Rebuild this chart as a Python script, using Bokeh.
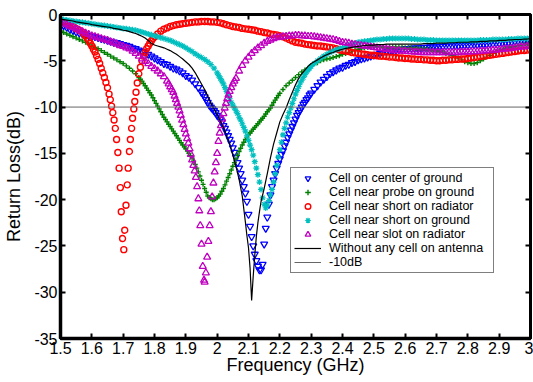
import numpy as np
from bokeh.plotting import figure
from bokeh.models import Range1d, LinearAxis, FixedTicker, Legend, LegendItem
from bokeh.embed import file_html
from bokeh.resources import INLINE

# ---------------- data ----------------
f_start, f_step, n_pts = 1.5, 0.01, 151
freq = [round(f_start + f_step * i, 3) for i in range(n_pts)]

x_ticks = [1.5, 1.6, 1.7, 1.8, 1.9, 2.0, 2.1, 2.2, 2.3, 2.4, 2.5, 2.6, 2.7, 2.8, 2.9, 3.0]
x_labels = ["1.5", "1.6", "1.7", "1.8", "1.9", "2", "2.1", "2.2", "2.3", "2.4", "2.5",
            "2.6", "2.7", "2.8", "2.9", "3"]
y_ticks = [-35, -30, -25, -20, -15, -10, -5, 0]
y_labels = ["-35", "-30", "-25", "-20", "-15", "-10", "-5", "0"]
ref_db = -10
x_title = "Frequency (GHz)"
y_title = "Return Loss(dB)"

labels = ["Cell on center of ground", "Cell near probe on ground", "Cell near short on radiator",
          "Cell near short on ground", "Cell near slot on radiator", "Without any cell on antenna", "-10dB"]

blue_db = [
    -1.0, -1.2, -1.4, -1.6, -1.75, -1.9, -2.0, -2.1, -2.2, -2.3,
    -2.35, -2.4, -2.5, -2.6, -2.7, -2.8, -2.9, -3.0, -3.05, -3.15,
    -3.25, -3.35, -3.45, -3.6, -3.7, -3.85, -4.0, -4.1, -4.3, -4.5,
    -4.7, -4.9, -5.1, -5.3, -5.4, -5.6, -5.8, -5.9, -6.1, -6.3,
    -6.6, -6.8, -7.1, -7.5, -7.9, -8.4, -8.9, -9.5, -10.0, -10.4,
    -10.9, -11.3, -12.0, -12.7, -13.5, -14.4, -15.4, -16.6, -17.9, -19.3,
    -21.6, -24.0, -25.9, -27.2, -27.6, -24.8, -21.9, -19.5, -17.9, -16.6,
    -15.6, -14.7, -13.8, -12.9, -12.1, -11.3, -10.6, -10.0, -9.5, -9.0,
    -8.5, -8.1, -7.7, -7.3, -7.0, -6.7, -6.4, -6.2, -6.0, -5.8,
    -5.7, -5.5, -5.4, -5.2, -5.1, -4.9, -4.8, -4.7, -4.6, -4.5,
    -4.4, -4.3, -4.2, -4.1, -4.0, -3.95, -3.9, -3.85, -3.8, -3.75,
    -3.7, -3.7, -3.65, -3.65, -3.6, -3.6, -3.55, -3.55, -3.5, -3.5,
    -3.5, -3.45, -3.45, -3.4, -3.4, -3.4, -3.35, -3.35, -3.3, -3.3,
    -3.3, -3.3, -3.25, -3.25, -3.2, -3.2, -3.2, -3.15, -3.15, -3.1,
    -3.1, -3.05, -3.0, -3.0, -2.95, -2.9, -2.85, -2.8, -2.8, -2.75,
    -2.7]
blue_mid_start = 1.955
blue_mid_db = [
    -8.6, -9.2, -9.8, -10.2, -10.6, -11.1, -11.6, -12.3, -13.1, -13.9,
    -14.9, -16.0, -17.2, -18.6, -20.2, -22.9, -25.0, -26.6, -27.6, -27.0,
    -23.1, -20.5, -18.6, -17.2, -16.1, -15.1, -14.2, -13.3, -12.5, -11.7,
    -10.9, -10.3, -9.7, -9.2, -8.7]

green_db = [
    -1.8, -1.95, -2.1, -2.25, -2.4, -2.55, -2.7, -2.85, -3.0, -3.2,
    -3.4, -3.55, -3.7, -3.9, -4.1, -4.3, -4.5, -4.7, -4.9, -5.1,
    -5.3, -5.55, -5.8, -6.1, -6.4, -6.8, -7.2, -7.7, -8.2, -8.7,
    -9.3, -9.9, -10.5, -11.1, -11.6, -12.1, -12.6, -13.1, -13.6, -14.1,
    -14.5, -15.0, -15.5, -16.2, -17.0, -17.9, -18.8, -19.6, -19.9, -20.0,
    -19.8, -19.4, -18.8, -18.0, -17.2, -16.4, -15.6, -14.8, -14.1, -13.5,
    -13.0, -12.6, -12.2, -11.8, -11.4, -11.0, -10.5, -10.1, -9.5, -9.0,
    -8.5, -8.1, -7.7, -7.4, -7.1, -6.8, -6.5, -6.2, -6.0, -5.8,
    -5.5, -5.3, -5.2, -5.0, -4.9, -4.8, -4.75, -4.65, -4.55, -4.45,
    -4.3, -4.2, -4.1, -3.95, -3.85, -3.75, -3.7, -3.6, -3.55, -3.5,
    -3.5, -3.5, -3.5, -3.5, -3.5, -3.5, -3.5, -3.5, -3.55, -3.55,
    -3.6, -3.6, -3.6, -3.65, -3.65, -3.7, -3.7, -3.75, -3.8, -3.85,
    -3.9, -4.0, -4.1, -4.2, -4.3, -4.4, -4.5, -4.7, -4.9, -5.1,
    -5.2, -5.3, -5.3, -5.2, -5.0, -4.8, -4.6, -4.4, -4.2, -4.0,
    -3.9, -3.8, -3.7, -3.6, -3.5, -3.4, -3.35, -3.3, -3.2, -3.15,
    -3.1]
green_mid_start = 1.755
green_mid_db = [
    -7.0, -7.45, -7.95, -8.45, -9.0, -9.6, -10.2, -10.8, -11.35, -11.85,
    -12.35, -12.85, -13.35, -13.85, -14.3, -14.75, -15.25, -15.85, -16.6, -17.45,
    -18.35, -19.2, -19.8, -20.0, -19.9, -19.6, -19.1, -18.4, -17.6, -16.8,
    -16.0, -15.2, -14.45, -13.8, -13.25, -12.8, -12.4, -12.0, -11.6, -11.2,
    -10.75, -10.3, -9.8, -9.25, -8.75]

red_db = [
    -0.75, -0.85, -1.0, -1.15, -1.3, -1.5, -1.7, -1.95, -2.3, -2.8,
    -3.4, -4.1, -4.8, -5.8, -6.8, -7.9, -9.2, -11.0, -13.3, -17.5,
    -25.0, -20.3, -14.6, -11.0, -8.3, -6.3, -5.0, -4.1, -3.4, -2.9,
    -2.4, -2.1, -1.8, -1.6, -1.45, -1.3, -1.2, -1.1, -1.05, -1.0,
    -0.95, -0.9, -0.85, -0.8, -0.8, -0.75, -0.75, -0.75, -0.8, -0.8,
    -0.85, -0.9, -1.0, -1.1, -1.2, -1.3, -1.35, -1.4, -1.5, -1.55,
    -1.6, -1.65, -1.7, -1.8, -1.85, -1.95, -2.0, -2.1, -2.15, -2.2,
    -2.3, -2.4, -2.55, -2.7, -2.85, -3.0, -3.05, -3.1, -3.2, -3.25,
    -3.3, -3.35, -3.4, -3.4, -3.45, -3.5, -3.55, -3.6, -3.7, -3.8,
    -3.9, -3.95, -4.0, -4.1, -4.15, -4.2, -4.25, -4.3, -4.35, -4.4,
    -4.4, -4.45, -4.5, -4.5, -4.55, -4.6, -4.6, -4.65, -4.7, -4.7,
    -4.75, -4.75, -4.8, -4.8, -4.85, -4.85, -4.9, -4.9, -4.95, -4.95,
    -5.0, -5.0, -4.95, -4.95, -4.9, -4.9, -4.85, -4.85, -4.8, -4.8,
    -4.75, -4.7, -4.65, -4.6, -4.55, -4.5, -4.45, -4.4, -4.35, -4.3,
    -4.25, -4.2, -4.15, -4.1, -4.05, -4.0, -3.95, -3.9, -3.9, -3.85,
    -3.8]
red_dip_f = [1.57, 1.575, 1.58, 1.585, 1.59, 1.595, 1.60, 1.605, 1.61, 1.615,
             1.62, 1.625, 1.63, 1.635, 1.64, 1.645, 1.65, 1.655,
             1.659, 1.663, 1.667, 1.671, 1.675, 1.679, 1.683, 1.687, 1.691, 1.694, 1.698, 1.702,
             1.705, 1.709, 1.713, 1.716, 1.720, 1.723, 1.727, 1.730, 1.734, 1.737, 1.741, 1.745,
             1.75, 1.755, 1.76, 1.765, 1.77, 1.775, 1.78, 1.785, 1.79, 1.795, 1.80]
red_dip_db = [-1.9, -2.1, -2.3, -2.55, -2.8, -3.1, -3.4, -3.75, -4.05, -4.45,
              -4.85, -5.3, -5.8, -6.3, -6.8, -7.35, -7.9, -8.6,
              -9.2, -9.9, -10.6, -11.4, -12.3, -13.5, -14.9, -16.6, -18.7, -21.3, -24.2, -25.4,
              -23.3, -20.6, -18.4, -16.6, -14.8, -13.5, -12.3, -11.2, -10.2, -9.4, -8.4, -7.4,
              -6.4, -5.7, -5.0, -4.5, -4.1, -3.7, -3.4, -3.1, -2.85, -2.6, -2.4]

cyan_db = [
    -0.5, -0.55, -0.6, -0.65, -0.7, -0.75, -0.8, -0.85, -0.9, -0.95,
    -1.0, -1.05, -1.1, -1.15, -1.2, -1.25, -1.3, -1.35, -1.4, -1.45,
    -1.5, -1.55, -1.6, -1.65, -1.7, -1.8, -1.9, -2.0, -2.1, -2.2,
    -2.3, -2.4, -2.5, -2.6, -2.7, -2.8, -2.95, -3.1, -3.25, -3.4,
    -3.6, -3.8, -4.0, -4.25, -4.45, -4.65, -4.85, -5.1, -5.4, -5.8,
    -6.3, -6.9, -7.5, -8.3, -9.1, -9.8, -10.4, -11.1, -11.8, -12.6,
    -13.6, -14.6, -15.9, -17.3, -18.9, -20.5, -20.6, -19.5, -18.1, -16.3,
    -14.6, -13.0, -11.7, -10.6, -9.6, -8.6, -7.8, -7.1, -6.5, -6.0,
    -5.6, -5.3, -5.0, -4.75, -4.5, -4.3, -4.1, -3.95, -3.8, -3.7,
    -3.6, -3.45, -3.3, -3.2, -3.1, -3.0, -2.95, -2.9, -2.85, -2.8,
    -2.75, -2.7, -2.7, -2.65, -2.65, -2.6, -2.6, -2.6, -2.6, -2.6,
    -2.6, -2.6, -2.65, -2.65, -2.7, -2.7, -2.7, -2.75, -2.75, -2.75,
    -2.8, -2.8, -2.8, -2.8, -2.8, -2.8, -2.8, -2.8, -2.8, -2.8,
    -2.8, -2.8, -2.8, -2.8, -2.75, -2.75, -2.75, -2.75, -2.7, -2.7,
    -2.7, -2.7, -2.7, -2.65, -2.65, -2.65, -2.6, -2.6, -2.6, -2.6,
    -2.6]
cyan_dip_start, cyan_dip_step = 2.0, 0.005
cyan_dip_db = [
    -6.3, -6.6, -6.9, -7.2, -7.5, -7.9, -8.3, -8.7, -9.1, -9.5,
    -9.8, -10.1, -10.4, -10.7, -11.1, -11.4, -11.8, -12.2, -12.6, -13.1,
    -13.6, -14.1, -14.6, -15.2, -15.9, -16.6, -17.3, -18.1, -18.9, -19.8,
    -20.5, -20.9, -20.6, -20.1, -19.5, -18.9, -18.1, -17.2, -16.3, -15.4,
    -14.6, -13.8, -13.0, -12.3, -11.7, -11.1, -10.6, -10.1, -9.6, -9.1,
    -8.6, -8.2, -7.8, -7.4, -7.1, -6.8, -6.5, -6.2, -6.0, -5.8,
    -5.6]

magenta_db = [
    -0.8, -0.95, -1.1, -1.25, -1.4, -1.55, -1.7, -1.85, -2.0, -2.15,
    -2.3, -2.4, -2.5, -2.6, -2.7, -2.8, -2.95, -3.05, -3.2, -3.35,
    -3.45, -3.6, -3.7, -3.95, -4.2, -4.5, -4.8, -5.05, -5.3, -5.6,
    -5.85, -6.1, -6.4, -6.7, -7.1, -7.8, -8.4, -9.2, -10.2, -11.3,
    -12.9, -14.2, -15.7, -17.5, -19.9, -24.8, -28.9, -26.2, -21.3, -17.0,
    -15.0, -12.0, -10.4, -9.1, -8.3, -7.5, -6.9, -6.1, -5.5, -5.0,
    -4.6, -4.2, -3.9, -3.6, -3.35, -3.1, -2.9, -2.75, -2.6, -2.5,
    -2.45, -2.4, -2.35, -2.3, -2.3, -2.25, -2.25, -2.3, -2.3, -2.35,
    -2.35, -2.4, -2.45, -2.5, -2.55, -2.6, -2.65, -2.7, -2.8, -2.9,
    -3.0, -3.05, -3.1, -3.2, -3.25, -3.3, -3.35, -3.4, -3.45, -3.5,
    -3.55, -3.6, -3.65, -3.7, -3.75, -3.8, -3.85, -3.9, -3.9, -3.95,
    -3.95, -4.0, -4.0, -4.05, -4.05, -4.1, -4.1, -4.1, -4.1, -4.1,
    -4.1, -4.1, -4.1, -4.1, -4.1, -4.1, -4.1, -4.1, -4.05, -4.05,
    -4.05, -4.0, -4.0, -4.0, -3.95, -3.95, -3.9, -3.9, -3.85, -3.85,
    -3.8, -3.75, -3.7, -3.7, -3.65, -3.6, -3.55, -3.5, -3.5, -3.45,
    -3.4]
magenta_dip_f = [1.840, 1.845, 1.850, 1.855, 1.860, 1.864, 1.868, 1.872, 1.876, 1.880,
                 1.884, 1.888, 1.892, 1.896, 1.900, 1.904, 1.908, 1.912, 1.916, 1.920,
                 1.924, 1.928, 1.932, 1.936, 1.940, 1.943, 1.946, 1.950, 1.954, 1.958,
                 1.960, 1.964, 1.968, 1.972, 1.976, 1.980, 1.984, 1.988, 1.992, 1.996,
                 2.000, 2.004, 2.008, 2.012, 2.016, 2.020, 2.024, 2.028, 2.032, 2.036,
                 2.040, 2.045, 2.050, 2.055, 2.060]
magenta_dip_db = [-7.2, -7.5, -7.8, -8.1, -8.4, -8.8, -9.2, -9.6, -10.0, -10.4,
                  -10.9, -11.4, -11.9, -12.4, -12.9, -13.4, -13.9, -14.5, -15.1, -15.7,
                  -16.3, -16.9, -17.6, -18.6, -19.9, -21.2, -22.8, -24.8, -27.2, -28.7,
                  -28.9, -27.9, -26.2, -24.5, -22.8, -21.3, -19.7, -18.2, -17.0, -16.0,
                  -15.0, -13.7, -12.8, -12.0, -11.3, -10.7, -10.1, -9.6, -9.1, -8.7,
                  -8.3, -7.9, -7.5, -7.2, -6.9]

black_db = [
    -0.5, -0.55, -0.6, -0.65, -0.7, -0.8, -0.85, -0.9, -0.95, -1.0,
    -1.1, -1.15, -1.2, -1.25, -1.3, -1.35, -1.4, -1.5, -1.55, -1.6,
    -1.7, -1.75, -1.85, -1.95, -2.05, -2.2, -2.35, -2.55, -2.8, -3.1,
    -3.3, -3.4, -3.5, -3.6, -3.75, -3.9, -4.1, -4.3, -4.55, -4.8,
    -5.1, -5.4, -5.8, -6.3, -6.9, -7.5, -8.1, -8.8, -9.6, -10.2,
    -10.8, -11.5, -12.2, -13.1, -14.0, -15.2, -16.4, -17.8, -19.6, -22.4,
    -25.2, -30.9, -26.0, -22.5, -20.2, -18.8, -17.2, -15.5, -14.0, -12.8,
    -11.6, -10.8, -10.1, -9.2, -8.4, -7.6, -6.9, -6.4, -6.0, -5.6,
    -5.3, -5.1, -4.9, -4.7, -4.5, -4.35, -4.2, -4.1, -3.95, -3.85,
    -3.75, -3.65, -3.6, -3.55, -3.5, -3.45, -3.4, -3.35, -3.3, -3.3,
    -3.3, -3.25, -3.25, -3.25, -3.2, -3.2, -3.2, -3.2, -3.2, -3.2,
    -3.2, -3.2, -3.2, -3.2, -3.2, -3.2, -3.15, -3.15, -3.15, -3.15,
    -3.1, -3.1, -3.1, -3.1, -3.05, -3.05, -3.05, -3.0, -3.0, -3.0,
    -3.0, -2.95, -2.95, -2.95, -2.9, -2.9, -2.9, -2.85, -2.85, -2.85,
    -2.8, -2.8, -2.8, -2.75, -2.75, -2.7, -2.7, -2.7, -2.65, -2.65,
    -2.6]
black_dip_f = [2.095, 2.100, 2.105, 2.110, 2.115, 2.120, 2.125, 2.130, 2.135]
black_dip_db = [-23.9, -25.2, -27.4, -30.9, -28.3, -26.0, -24.0, -22.5, -21.3]

colors = ["#0000FF", "#008000", "#FF0000", "#00BFBF", "#BF00BF", "#000000", "#666666"]


# ---------------- helpers ----------------
def with_mid(coarse, mid_start, mid_db):
    xs = list(freq) + [round(mid_start + 0.01 * i, 4) for i in range(len(mid_db))]
    ys = list(coarse) + list(mid_db)
    order = np.argsort(xs, kind="stable")
    return [xs[i] for i in order], [ys[i] for i in order]


def with_dip(coarse, dip_f, dip_db):
    lo, hi = min(dip_f) - 1e-9, max(dip_f) + 1e-9
    pts = [(f, v) for f, v in zip(freq, coarse) if not (lo <= f <= hi)]
    pts += list(zip(dip_f, dip_db))
    pts.sort()
    return [p[0] for p in pts], [p[1] for p in pts]


blue_x, blue_y = with_mid(blue_db, blue_mid_start, blue_mid_db)
green_x, green_y = with_mid(green_db, green_mid_start, green_mid_db)
red_x, red_y = with_dip(red_db, red_dip_f, red_dip_db)
cyan_dip_f = [round(cyan_dip_start + cyan_dip_step * i, 4) for i in range(len(cyan_dip_db))]
cyan_x, cyan_y = with_dip(cyan_db, cyan_dip_f, cyan_dip_db)
mag_x, mag_y = with_dip(magenta_db, magenta_dip_f, magenta_dip_db)
blk_x, blk_y = with_dip(black_db, black_dip_f, black_dip_db)

# ---------------- figure ----------------
FONT = "Liberation Sans"
x_lo, x_hi = x_ticks[0], x_ticks[-1]
y_lo, y_hi = y_ticks[0], y_ticks[-1]

p = figure(width=533, height=382, x_range=Range1d(x_lo, x_hi), y_range=Range1d(y_lo, y_hi),
           output_backend="svg", toolbar_location=None,
           min_border_left=60, min_border_right=3, min_border_top=14, min_border_bottom=44)
p.xgrid.visible = False
p.ygrid.visible = False
p.background_fill_color = "white"
p.border_fill_color = "white"
p.outline_line_color = "black"
p.outline_line_width = 3


def style_axis(ax):
    ax.axis_line_color = "black"
    ax.axis_line_width = 3.5
    ax.major_tick_in = 5
    ax.major_tick_out = 0
    ax.major_tick_line_width = 2
    ax.major_tick_line_color = "black"
    ax.minor_tick_line_color = None
    ax.major_label_text_font = FONT
    ax.major_label_text_font_size = "16px"
    ax.major_label_text_color = "black"
    ax.axis_label_text_font = FONT
    ax.axis_label_text_font_size = "18px"
    ax.axis_label_text_font_style = "normal"
    ax.axis_label_text_color = "black"


xa = p.xaxis[0]
ya = p.yaxis[0]
xa.ticker = FixedTicker(ticks=x_ticks)
xa.major_label_overrides = dict(zip(x_ticks, x_labels))
ya.ticker = FixedTicker(ticks=y_ticks)
ya.major_label_overrides = dict(zip(y_ticks, y_labels))
style_axis(xa)
style_axis(ya)
xa.axis_label = x_title
xa.major_label_standoff = 3
xa.axis_label_standoff = -2
ya.axis_label = y_title
ya.major_label_standoff = 3
ya.axis_label_standoff = 7

# top / right axes: inward ticks only, empty labels
top = LinearAxis(ticker=FixedTicker(ticks=x_ticks),
                 major_label_overrides={t: "" for t in x_ticks})
right = LinearAxis(ticker=FixedTicker(ticks=y_ticks),
                   major_label_overrides={t: "" for t in y_ticks})
style_axis(top)
style_axis(right)
top.axis_line_width = 3
right.axis_line_width = 3
top.major_label_text_font_size = "1px"
right.major_label_text_font_size = "1px"
top.major_label_standoff = 5
right.major_label_standoff = 0
p.add_layout(top, "above")
p.add_layout(right, "right")

r_blue = p.scatter(blue_x, blue_y, marker="inverted_triangle", size=7, fill_color=None,
                   line_color=colors[0], line_width=1.3)
r_green = p.scatter(green_x, green_y, marker="cross", size=5, line_color=colors[1], line_width=1.4)
r_red = p.scatter(red_x, red_y, marker="circle", size=6, fill_color=None,
                  line_color=colors[2], line_width=1.4)
r_cyan = p.scatter(cyan_x, cyan_y, marker="asterisk", size=6, line_color=colors[3], line_width=1.2)
r_mag = p.scatter(mag_x, mag_y, marker="triangle", size=7, fill_color=None,
                  line_color=colors[4], line_width=1.3)
r_blk = p.line(blk_x, blk_y, line_color=colors[5], line_width=1.2)
r_ref = p.line([x_lo, x_hi], [ref_db, ref_db], line_color=colors[6], line_width=1)

renderers = [r_blue, r_green, r_red, r_cyan, r_mag, r_blk, r_ref]
legend = Legend(items=[LegendItem(label=lab, renderers=[r]) for lab, r in zip(labels, renderers)],
                location=(230, 65), orientation="vertical",
                label_text_font=FONT, label_text_font_size="12.5px", label_text_color="black",
                glyph_width=27, glyph_height=14, label_height=14, label_width=161,
                label_standoff=8, spacing=0, padding=3, margin=0,
                border_line_color="black", border_line_width=1,
                background_fill_color="white", background_fill_alpha=1.0)
p.add_layout(legend, "center")

open("out.html", "w").write(file_html(p, INLINE))
